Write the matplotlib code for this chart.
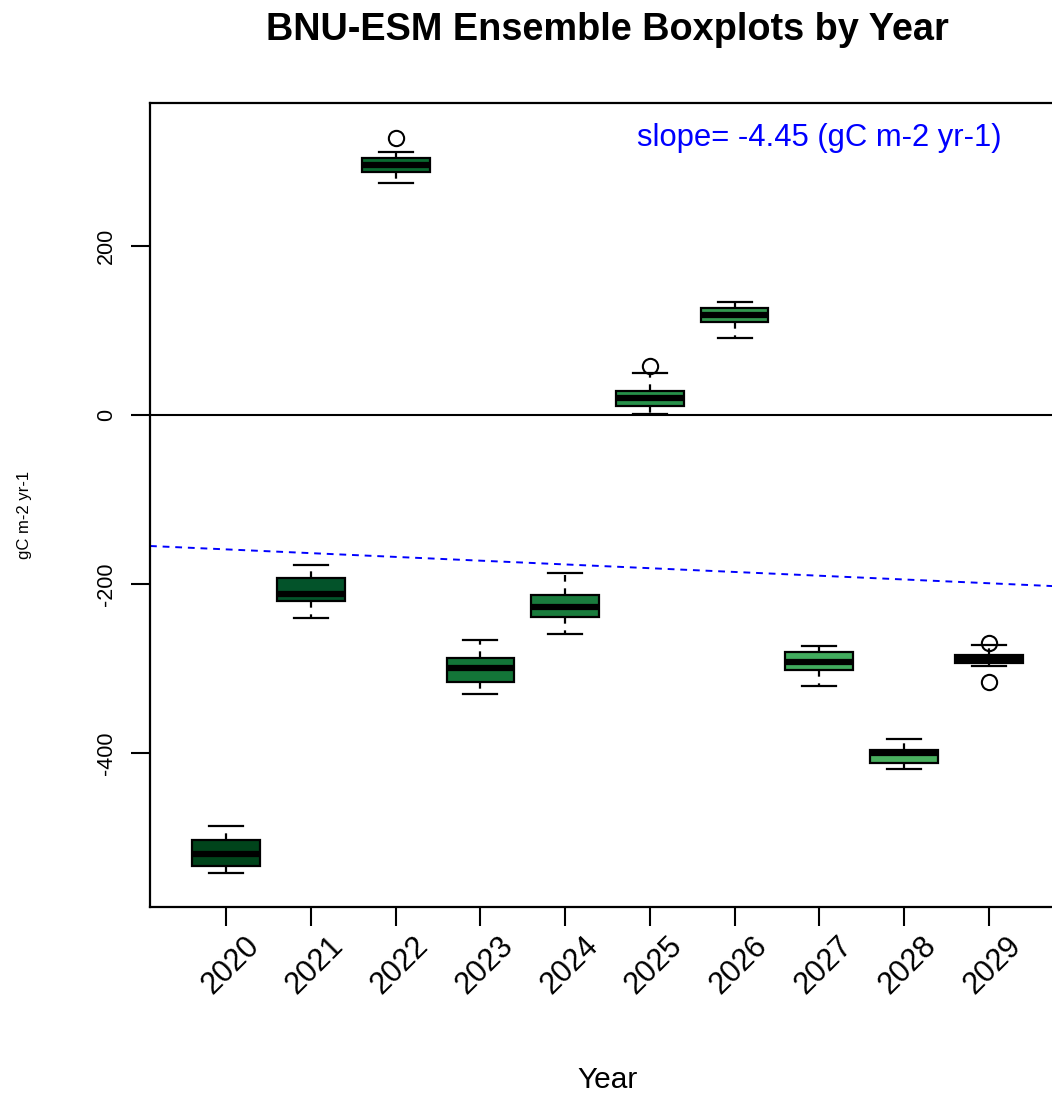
import matplotlib
matplotlib.use('Agg')
import matplotlib.pyplot as plt
import matplotlib.transforms as mtransforms

plt.rcParams['font.family'] = ['Liberation Sans', 'DejaVu Sans']

# ensemble spread per year
years = [2020, 2021, 2022, 2023, 2024, 2025, 2026, 2027, 2028, 2029]
whis_lo = [-541.6, -240.0, 274.6, -329.8, -258.8, 1.0, 91.1, -320.7, -418.5, -296.7]
q1 = [-533.0, -220.0, 287.2, -316.0, -239.5, 11.0, 110.0, -301.8, -411.4, -293.9]
med = [-519.5, -212.2, 295.9, -299.8, -227.2, 20.1, 118.3, -292.0, -399.5, -288.8]
q3 = [-503.0, -193.3, 303.8, -288.0, -213.4, 28.4, 126.2, -280.5, -396.4, -284.0]
whis_hi = [-486.0, -177.9, 311.6, -266.7, -187.4, 49.3, 133.3, -273.4, -383.8, -272.6]
fliers = [[], [], [327.5], [], [], [58.4], [], [], [], [-269.4, -315.6]]
box_colors = ['#00441b', '#03532a', '#0a6a30', '#137538', '#1a7c3d',
              '#27914a', '#33994f', '#41ab5d', '#4aaf5f', '#58b868']
trend_slope = -4.45
trend_start = -159.0
slope_label = 'slope= -4.45 (gC m-2 yr-1)'

W, H = 1052, 1095
fig = plt.figure(figsize=(W / 100, H / 100), dpi=100)
# plot region runs past the right edge, as in the reference
ax = fig.add_axes([150 / W, 1 - 907 / H, 915 / W, 804 / H])

stats = []
for i in range(len(years)):
    stats.append(dict(whislo=whis_lo[i], q1=q1[i], med=med[i], q3=q3[i],
                      whishi=whis_hi[i], fliers=fliers[i]))

pos = list(range(1, len(years) + 1))
bp = ax.bxp(stats, positions=pos, widths=0.8, patch_artist=True,
            showcaps=True, capwidths=0.4,
            boxprops=dict(edgecolor='black', linewidth=1.6),
            medianprops=dict(color='black', linewidth=4.5, solid_capstyle='butt'),
            whiskerprops=dict(color='black', linewidth=1.6, linestyle=(0, (3, 3))),
            capprops=dict(color='black', linewidth=1.6),
            flierprops=dict(marker='o', markerfacecolor='none', markeredgecolor='black',
                            markersize=11, markeredgewidth=1.5))
for patch, c in zip(bp['boxes'], box_colors):
    patch.set_facecolor(c)

ax.axhline(0, color='black', linewidth=1.5, zorder=1)
ax.axline((1, trend_start), slope=trend_slope, color='blue', linewidth=1.4,
          linestyle=(0, (3.5, 3)), zorder=1)
ax.text(8.0, 328, slope_label, color='blue', fontsize=22.3, ha='center', va='center')

ax.set_xlim(0.1, 10.9)
ax.set_ylim(-582, 369)
ax.set_yticks([-400, -200, 0, 200])
ax.set_yticklabels(['-400', '-200', '0', '200'], rotation=90, va='center', fontsize=15.5)
ax.set_xticks(pos)
ax.set_xticklabels([])
ax.tick_params(length=14, width=1.5, pad=10)

trans = mtransforms.blended_transform_factory(ax.transData, ax.transAxes)
for p, yr in zip(pos, years):
    ax.text(p + 0.05, -0.073, str(yr), transform=trans, rotation=45,
            ha='center', va='center', fontsize=22, rotation_mode='anchor')

for s in ax.spines.values():
    s.set_linewidth(1.6)

ax.text(0.5, -0.215, 'Year', transform=ax.transAxes, ha='center', va='center', fontsize=21.5)
fig.text(25 / W, 1 - 515 / H, 'gC m-2 yr-1', rotation=90, ha='center', va='center', fontsize=12)
fig.text(607 / W, 1 - 30 / H, 'BNU-ESM Ensemble Boxplots by Year', ha='center', va='center',
         fontsize=27.3, fontweight='bold')

plt.savefig('out.png', dpi=100)
